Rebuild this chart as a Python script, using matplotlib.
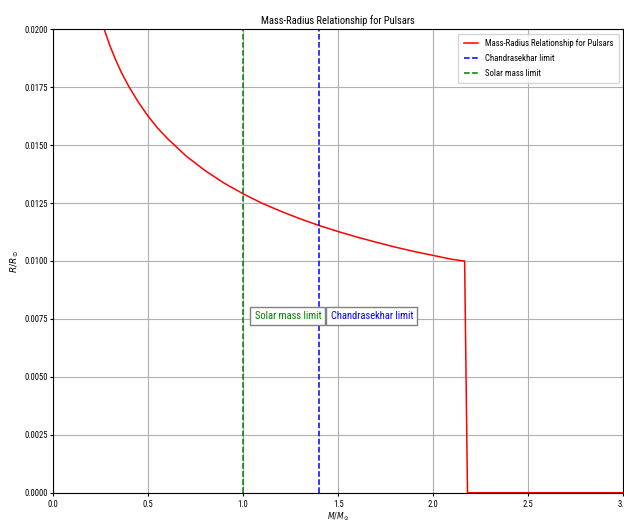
import matplotlib
matplotlib.use('Agg')
import matplotlib.pyplot as plt

plt.rcParams['font.family'] = ['Roboto Condensed', 'DejaVu Sans']
plt.rcParams['mathtext.fontset'] = 'dejavusans'

# mass (solar masses) and radius (solar radii)
mass = [0.25, 0.27, 0.30, 0.33, 0.36, 0.40, 0.45, 0.50, 0.55, 0.60, 0.70,
        0.80, 0.90, 1.00, 1.10, 1.20, 1.30, 1.40, 1.50, 1.60, 1.70, 1.80,
        1.90, 2.00, 2.10, 2.165, 2.18, 3.00]
radius = [0.02048, 0.01998, 0.01927, 0.01867, 0.01813, 0.01751, 0.01684,
          0.01625, 0.01574, 0.01530, 0.01453, 0.01390, 0.01336, 0.01290,
          0.01249, 0.01214, 0.01182, 0.01153, 0.01127, 0.01103, 0.01081,
          0.01060, 0.01041, 0.01024, 0.01007, 0.01000, 0.0, 0.0]

chandra = 1.4
solar = 1.0

fig = plt.figure(figsize=(6.24, 5.22), dpi=100)
ax = fig.add_axes([0.085, 0.0561, 0.914, 0.8878])

ax.plot(mass, radius, color='r', lw=1.1, label='Mass-Radius Relationship for Pulsars')
ax.axvline(chandra, color='b', ls='--', lw=1.1, label='Chandrasekhar limit')
ax.axvline(solar, color='g', ls='--', lw=1.1, label='Solar mass limit')

box = dict(boxstyle='square,pad=0.4', facecolor='white', edgecolor='gray')
ax.text(1.06, 0.0075, 'Solar mass limit', color='g', fontsize=7.6, bbox=box)
ax.text(1.46, 0.0075, 'Chandrasekhar limit', color='b', fontsize=7.6, bbox=box)

ax.set_xlim(0, 3.0)
ax.set_ylim(0, 0.02)
ax.set_yticks([i * 0.0025 for i in range(9)])
ax.yaxis.set_major_formatter(matplotlib.ticker.FormatStrFormatter('%.4f'))
ax.tick_params(labelsize=6.2, length=2.5)
ax.tick_params(axis='y', pad=0.8)
ax.tick_params(axis='x', pad=2.8)
ax.set_xlabel(r'$M/M_\odot$', fontsize=5.5, labelpad=1)
ax.set_ylabel(r'$R/R_\odot$', fontsize=6.5, labelpad=3)
ax.set_title('Mass-Radius Relationship for Pulsars', fontsize=7.6, pad=4)
ax.grid(True)
ax.legend(loc='upper right', fontsize=6.3, handlelength=1.7,
          labelspacing=0.7, borderpad=0.6)

fig.savefig('out.png', dpi=100)
